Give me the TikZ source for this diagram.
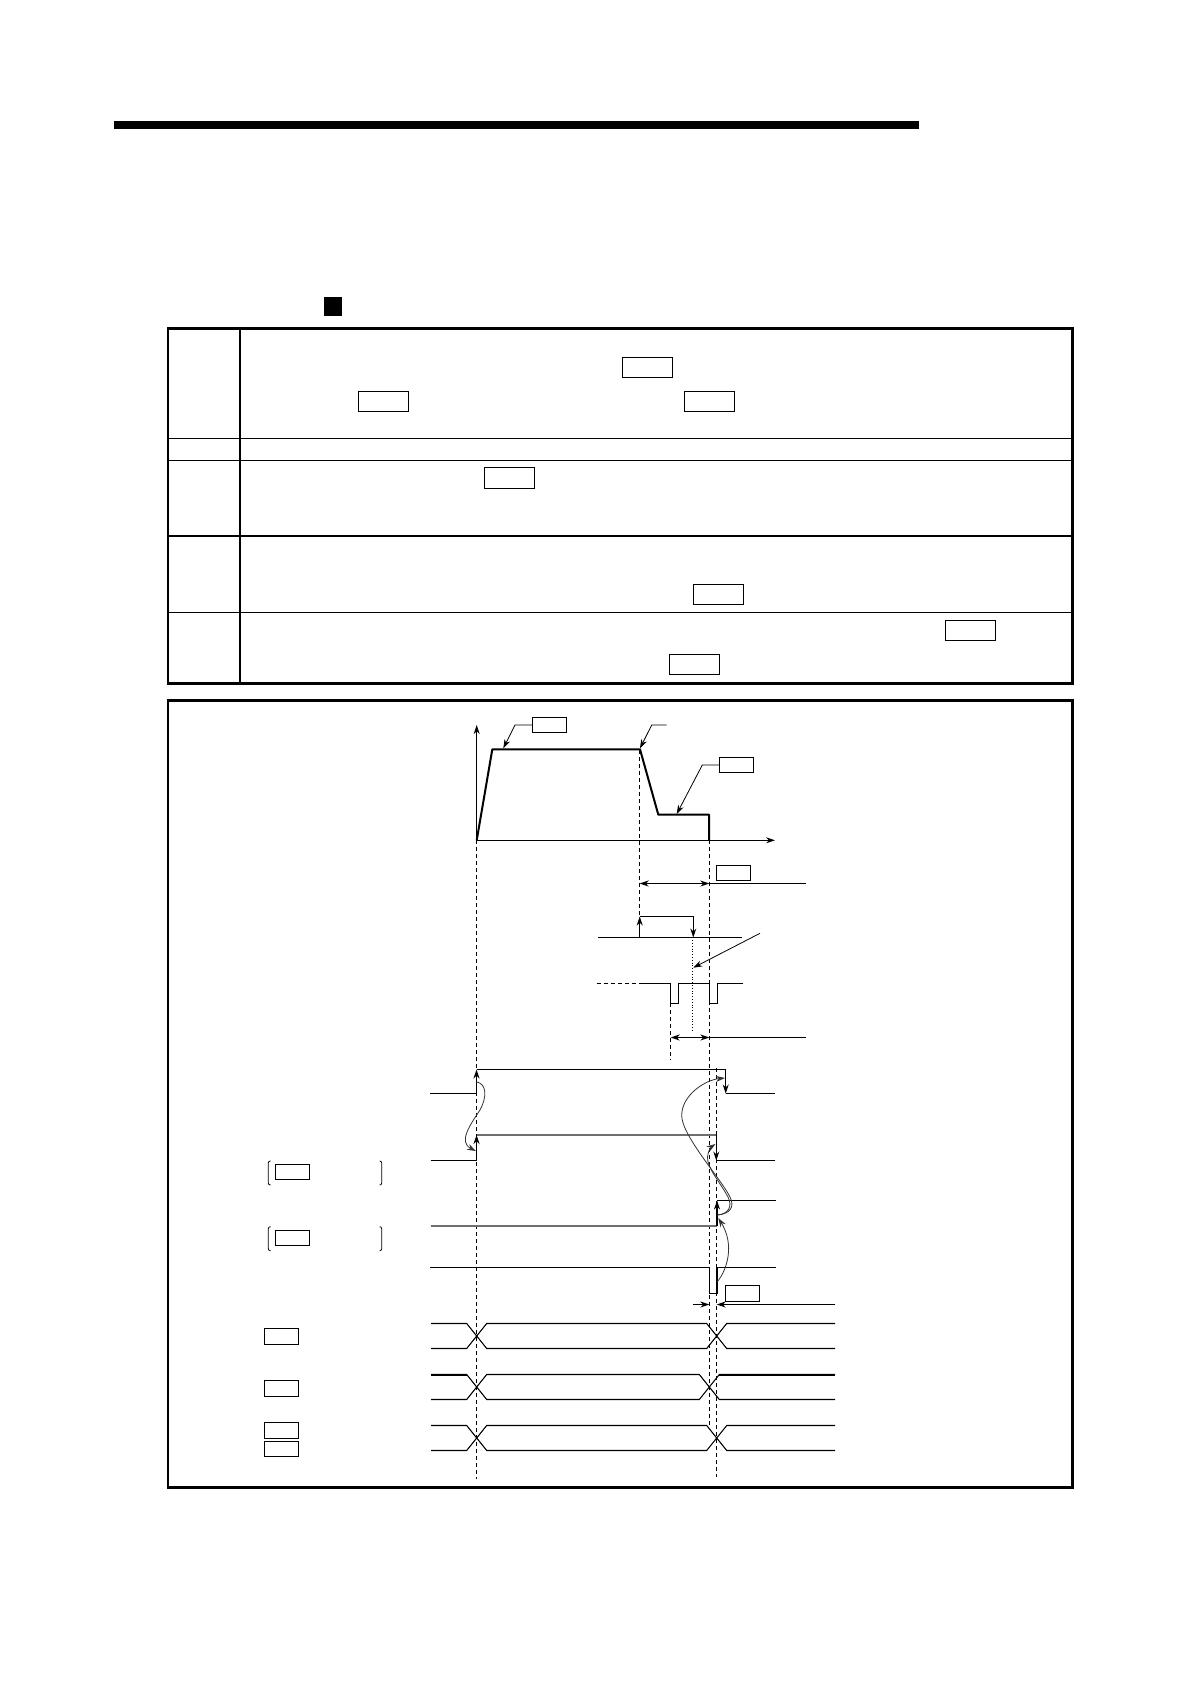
\documentclass[tikz,border=0pt]{standalone}
\usepackage{xcolor}
\usetikzlibrary{arrows.meta,calc,positioning}
\definecolor{softcol}{HTML}{6E6E6E}
\newcommand{\busline}[3]{%
  \draw[wire] (431,#1) -- (466.7,#1) -- (486.7,#2) -- ($(#3,#2)+(-10,0)$) -- ($(#3,#1)+(10,0)$) -- (835,#1);
  \draw[wire] (431,#2) -- (466.7,#2) -- (486.7,#1) -- ($(#3,#1)+(-10,0)$) -- ($(#3,#2)+(10,0)$) -- (835,#2);
}
\tikzset{
  frame/.style={line width=2.8pt},
  rowline/.style={line width=1pt},
  wire/.style={line width=1.05pt},
  softwire/.style={line width=1.7pt,softcol},
  profile/.style={line width=2pt},
  guide/.style={line width=1pt,dash pattern=on 4pt off 3pt},
  leader/.style={line width=0.8pt,-{Stealth[length=9pt,width=6pt]}},
  dimen/.style={line width=1pt,{Stealth[length=9pt,width=6pt]}-{Stealth[length=9pt,width=6pt]}},
  edge/.style={-{Stealth[length=9pt,width=6pt]}},
  link/.style={line width=0.8pt,black!80,-{Stealth[length=9pt,width=6pt]}},
  tblbox/.style={draw,line width=1pt,fill=white,inner sep=0pt,outer sep=0pt,minimum width=50.4pt,minimum height=20.6pt},
  sigbox/.style={draw,line width=1pt,fill=white,inner sep=0pt,outer sep=0pt,minimum width=34.4pt,minimum height=15.6pt},
}
\begin{document}
\begin{tikzpicture}[x=1pt,y=-1pt]
  \fill[white] (0,0) rectangle (1190,1684);
  % heading rule and bullet
  \fill (114,121) rectangle (919,129);
  \fill (324.3,296.7) rectangle (342.3,316);
  % table frame
  \draw[frame] (168,328.3) rectangle (1072.3,683.3);
  \draw[line width=1.8pt] (240,328.3) -- (240,683.3);
  \foreach \y in {438.3,460.3,612.3} {
    \draw[rowline] (168,\y) -- (1072.3,\y);
  }
  \draw[line width=2pt] (168,536) -- (1072.3,536);
  \foreach \n/\x/\y in {a/383.5/401.3,b/509.5/478,c/647.5/367.5,d/709.5/401.3,e/718.5/594.5,f/694.5/664.5,g/970.5/630.5} {
    \node[tblbox] (tb\n) at (\x,\y) {};
  }
  % chart frame
  \draw[frame] (168,700.3) rectangle (1072.3,1487.3);
  % guide lines
  \draw[guide] (476.7,840.3) -- (476.7,1479);
  \draw[guide] (639.7,750) -- (639.7,937);
  \draw[guide] (709.3,840.3) -- (709.3,1425);
  \draw[guide] (716.7,1068) -- (716.7,1477);
  \draw[guide] (670.5,1003) -- (670.5,1060);
  \draw[guide] (596.7,983.5) -- (641.7,983.5);
  \draw[line width=0.8pt,dotted] (692.7,937.3) -- (692.7,1031);
  % speed profile
  \draw[line width=1pt,edge] (476.7,840.3) -- (476.7,725);
  \draw[line width=1pt,edge] (476.7,840.3) -- (775,840.3);
  \draw[profile,line join=round] (476.7,840.3) -- (492.3,749.3) -- (640,749.3) -- (658.3,814.7) -- (709,814.7) -- (709,840.3);
  % labels on the profile
  \node[sigbox] (pa) at (549.5,725) {};
  \node[sigbox] (pb) at (736.5,765) {};
  \coordinate (tipa) at (503.3,748.3);
  \coordinate (tipb) at (640,748.3);
  \coordinate (tipc) at (676.7,814);
  \coordinate (ends) at (666.7,725);
  \draw[leader] (pa.west) -- (515,725) -- (tipa);
  \draw[leader] (ends) -- (651.7,725) -- (tipb);
  \draw[leader] (pb.west) -- (702.3,765) -- (tipc);
  % upper dimension
  \node[sigbox] (pc) at (733.5,872.8) {};
  \coordinate (dla) at (639.7,883.5);
  \coordinate (dra) at (709.3,883.5);
  \coordinate (dea) at (806,883.5);
  \draw[dimen] (dla) -- (dra);
  \draw[wire] (dra) -- (dea);
  % stop signal
  \draw[wire] (598.3,937.5) -- (742.3,937.5);
  \draw[wire,edge] (639.7,937.5) -- (639.7,916.5);
  \draw[wire,edge] (639.7,916.5) -- (693.3,916.5) -- (693.3,937.5);
  \coordinate (nota) at (760,933.3);
  \coordinate (notb) at (693.3,967.7);
  \draw[leader] (nota) -- (notb);
  % pulses
  \draw[wire] (642.3,983.5) -- (670.7,983.5) -- (670.7,1003.5) -- (678.7,1003.5) -- (678.7,983.5) -- (709.3,983.5) -- (709.3,1003.5) -- (717.3,1003.5) -- (717.3,983.5) -- (743.3,983.5);
  \coordinate (dlb) at (670.7,1037.5);
  \coordinate (drb) at (709.3,1037.5);
  \coordinate (deb) at (806,1037.5);
  \draw[dimen] (dlb) -- (drb);
  \draw[wire] (drb) -- (deb);
  % timing signals
  \draw[wire] (430,1093.5) -- (476.5,1093.5);
  \draw[wire,edge] (476.5,1093.5) -- (476.5,1069.5);
  \draw[wire] (476.5,1069.5) -- (725.7,1069.5);
  \draw[wire,edge] (725.7,1069.5) -- (725.7,1093.5);
  \draw[line width=1.5pt] (725.7,1093.5) -- (775,1093.5);
  \draw[wire] (430.7,1160.5) -- (476.5,1160.5);
  \draw[wire,edge] (476.5,1160.5) -- (476.5,1135);
  \draw[softwire] (476.5,1135) -- (716.3,1135);
  \draw[wire,edge] (716.3,1135) -- (716.3,1160.5);
  \draw[wire] (716.3,1160.5) -- (775,1160.5);
  \draw[softwire] (430.7,1225.7) -- (717,1225.7);
  \draw[wire,edge] (717,1225.7) -- (717,1200.5);
  \draw[wire] (717,1200.5) -- (775.7,1200.5);
  \draw[wire] (430.3,1267.5) -- (709.3,1267.5) -- (709.3,1293.5) -- (717,1293.5) -- (717,1267.5) -- (775.7,1267.5);
  % bent links
  \draw[link] (476.3,1081.7) .. controls (487,1084) and (487,1097) .. (480,1110) .. controls (470,1125) and (458,1142) .. (476,1151);
  \draw[link] (717.3,1215) .. controls (730,1214) and (735,1207) .. (730,1197) .. controls (722,1180) and (681,1135) .. (681.7,1115) .. controls (682,1095) and (705,1080) .. (725,1078);
  \draw[link] (717.3,1215) .. controls (728,1214) and (733,1207) .. (728,1197) .. controls (720,1182) and (707,1168) .. (707.5,1157) .. controls (708,1151) and (711,1147) .. (715.5,1144);
  \draw[link] (717.3,1281.7) .. controls (727,1270) and (735,1245) .. (718.3,1218);
  % pulse width
  \node[sigbox] (pd) at (742.7,1293.2) {};
  \coordinate (dlc) at (693.3,1304.5);
  \coordinate (tlc) at (709.3,1304.5);
  \coordinate (trc) at (716.7,1304.5);
  \coordinate (drc) at (835,1304.5);
  \draw[wire,edge] (dlc) -- (tlc);
  \draw[wire,edge] (drc) -- (trc);
  % data buses
  \busline{1323.5}{1348.5}{716.7}
  \busline{1374.5}{1399.5}{709.3}
  \busline{1425.5}{1450.5}{716.7}
  \draw[line width=2pt] (431,1374.5) -- (466.7,1374.5);
  \draw[line width=2pt] (719.3,1374.5) -- (835,1374.5);
  % labels on the left
  \foreach \n/\x/\y in {a/292.5/1171.8,b/292.5/1237.8,c/281.7/1336.3,d/281.7/1388.3,e/281.7/1430.5,f/281.7/1448.8} {
    \node[sigbox] (lb\n) at (\x,\y) {};
  }
  \foreach \y in {1161,1226.7} {
    \draw[line width=0.8pt,rounded corners=2pt] (270.5,\y) -- (268.3,\y) -- (268.3,\y+24) -- (270.5,\y+24);
    \draw[line width=0.8pt,rounded corners=2pt] (379.5,\y) -- (381.7,\y) -- (381.7,\y+24) -- (379.5,\y+24);
  }
\end{tikzpicture}
\end{document}
